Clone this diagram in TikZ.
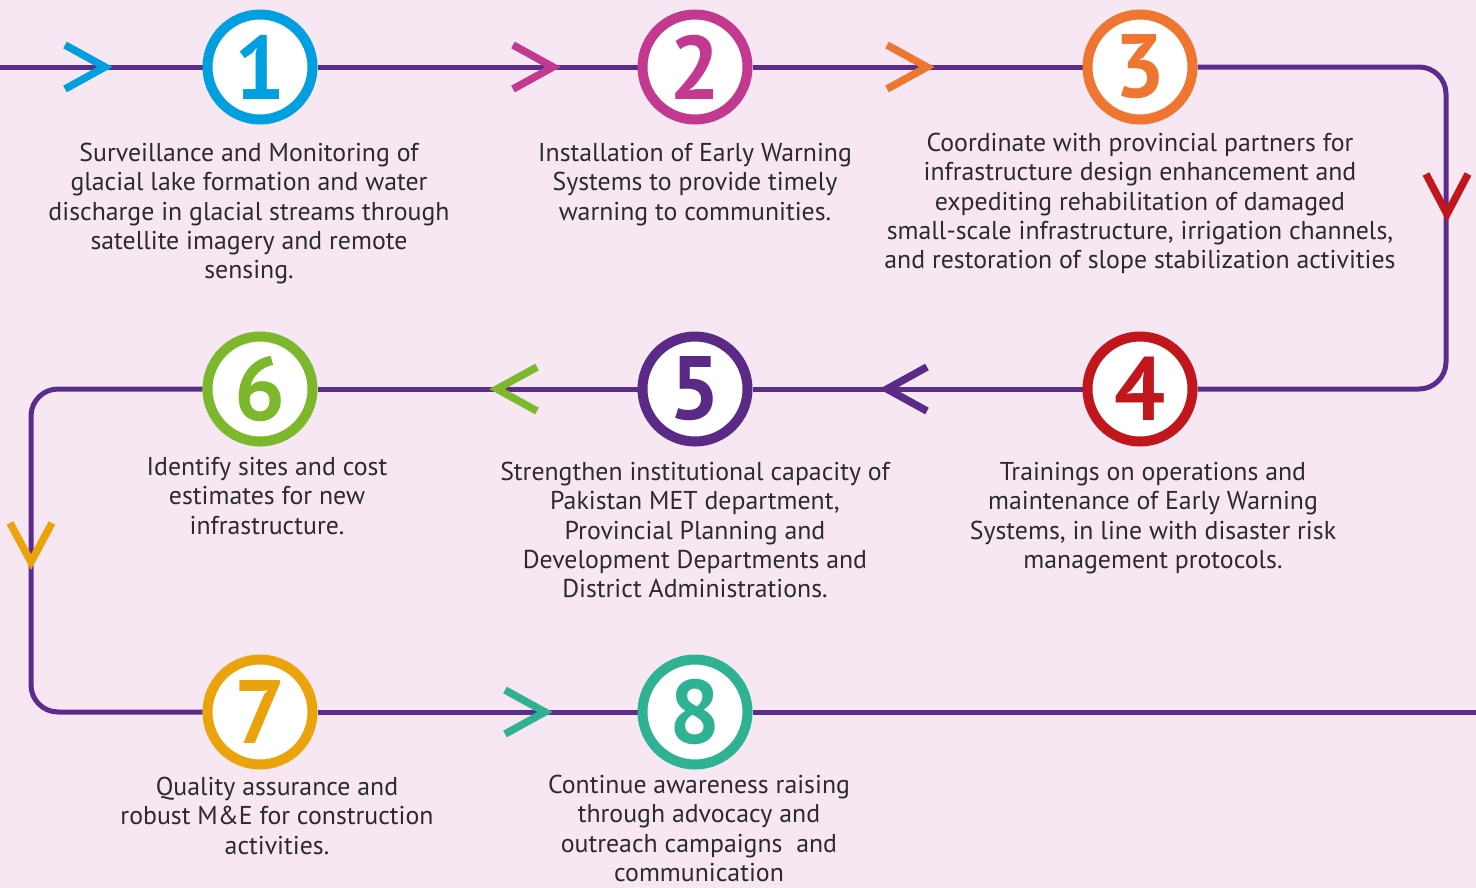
\documentclass[tikz,border=0pt]{standalone}
\usepackage{fontspec}
\setmainfont{PT Sans}
\usetikzlibrary{positioning, backgrounds}
\definecolor{bgpink}{HTML}{F6E7F3}
\definecolor{flowline}{HTML}{5B2C8B}
\definecolor{bodytext}{HTML}{2B2A2C}
\definecolor{stepA}{HTML}{00A0E0}
\definecolor{stepB}{HTML}{C2398F}
\definecolor{stepC}{HTML}{EE7630}
\definecolor{stepD}{HTML}{C0161C}
\definecolor{stepE}{HTML}{5B2A86}
\definecolor{stepF}{HTML}{7DB82C}
\definecolor{stepG}{HTML}{EAA30A}
\definecolor{stepH}{HTML}{2FB294}

\begin{document}
\begin{tikzpicture}[
        x=1pt, y=-1pt,
        numcirc/.style={circle, draw=#1, text=#1, line width=10pt, fill=white,
                        minimum size=105pt, inner sep=0pt,
                        font=\fontsize{90}{90}\selectfont\bfseries},
        desc/.style={anchor=north, align=center, inner sep=0pt, text=bodytext,
                     font=\fontsize{25.8}{29.3}\selectfont},
        flow/.style={draw=flowline, line width=5pt, rounded corners=27pt},
        chev/.style={line width=7.5pt, miter limit=10},
    ]
        % step circles
        \node[numcirc=stepA] (n1) at (260,67) {1};
        \node[numcirc=stepB] (n2) at (695,67) {2};
        \node[numcirc=stepC] (n3) at (1140,67) {3};
        \node[numcirc=stepD] (n4) at (1140,389) {4};
        \node[numcirc=stepE] (n5) at (695,389) {5};
        \node[numcirc=stepF] (n6) at (260,389) {6};
        \node[numcirc=stepG] (n7) at (260,712) {7};
        \node[numcirc=stepH] (n8) at (695,712) {8};

        % the path
        \coordinate (start) at (0,67);
        \coordinate (rturn) at (1446,228);
        \coordinate (lturn) at (31,550);
        \coordinate (finish) at (1476,712);

        \begin{pgfonlayer}{background}
            \fill[bgpink] (-2,-2) rectangle (1478,889);
            \draw[flow] (start) -- (n1.west);
            \draw[flow] (n1.east) -- (n2.west);
            \draw[flow] (n2.east) -- (n3.west);
            \draw[flow] (n3.east) -| (rturn) |- (n4.east);
            \draw[flow] (n4.west) -- (n5.east);
            \draw[flow] (n5.west) -- (n6.east);
            \draw[flow] (n6.west) -| (lturn) |- (n7.west);
            \draw[flow] (n7.east) -- (n8.west);
            \draw[flow] (n8.east) -- (finish);
        \end{pgfonlayer}

        % direction marks
        \draw[chev, stepA] (65,45) -- (105,67) -- (65,89);
        \draw[chev, stepB] (513,45) -- (553,67) -- (513,89);
        \draw[chev, stepC] (887,45) -- (927,67) -- (887,89);
        \draw[chev, stepD] (1426,174) -- (1447,214) -- (1468,174);
        \draw[chev, stepE] (927,367) -- (887,389) -- (927,411);
        \draw[chev, stepF] (537,367) -- (497,389) -- (537,411);
        \draw[chev, stepG] (10,523) -- (31,562) -- (52,523);
        \draw[chev, stepH] (505,690) -- (545,712) -- (505,734);

        % descriptions
        \node[desc] (t1) at (249,143) {Surveillance and Monitoring of\\glacial lake formation and water\\discharge in glacial streams through\\satellite imagery and remote\\sensing.};
        \node[desc] (t2) at (695,143) {Installation of Early Warning\\Systems to provide timely\\warning to communities.};
        \node[desc] (t3) at (1140,133) {Coordinate with provincial partners for\\infrastructure design enhancement and\\expediting rehabilitation of damaged\\small-scale infrastructure, irrigation channels,\\and restoration of slope stabilization activities};
        \node[desc] (t4) at (1153,462) {Trainings on operations and\\maintenance of Early Warning\\Systems, in line with disaster risk\\management protocols.};
        \node[desc] (t5) at (695,462) {Strengthen institutional capacity of\\Pakistan MET department,\\Provincial Planning and\\Development Departments and\\District Administrations.};
        \node[desc] (t6) at (267,457) {Identify sites and cost\\estimates for new\\infrastructure.};
        \node[desc] (t7) at (277,777) {Quality assurance and\\robust M\&E for construction\\activities.};
        \node[desc] (t8) at (699,775) {Continue awareness raising\\through advocacy and\\outreach campaigns~ and\\communication};

        \pgfresetboundingbox
        \useasboundingbox (0,0) rectangle (1476,887);
    \end{tikzpicture}
\end{document}
